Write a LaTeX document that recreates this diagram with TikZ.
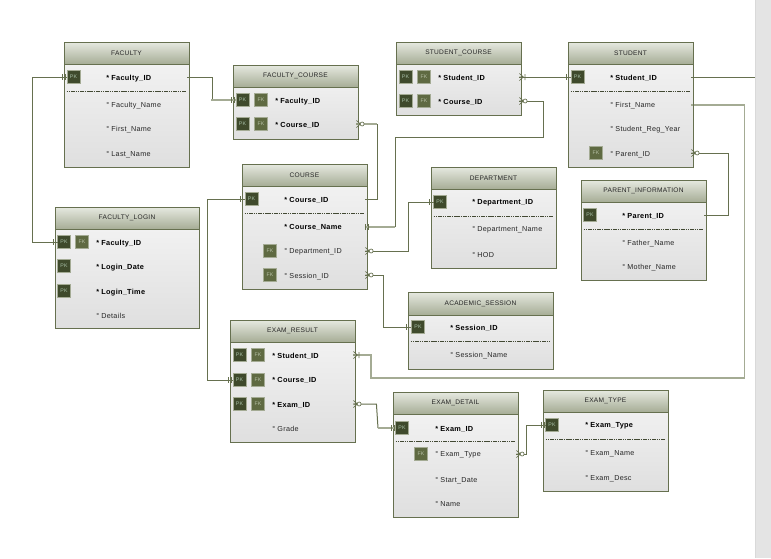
\documentclass[tikz,border=0pt]{standalone}
\usepackage{fontspec}
\setmainfont{Liberation Sans}[LetterSpace=4]
\definecolor{edge}{HTML}{66704F}
\definecolor{soft}{HTML}{A4AB94}
\definecolor{stripgrey}{HTML}{E4E4E4}
\definecolor{bodytop}{HTML}{F5F5F5}
\definecolor{bodybot}{HTML}{DFDFDF}
\definecolor{headtop}{HTML}{E6E9E0}
\definecolor{headbot}{HTML}{A6AD96}
\definecolor{pkfill}{HTML}{3F4A2C}
\definecolor{fkfill}{HTML}{5F6A42}
\definecolor{pktext}{HTML}{A8C0A8}
\definecolor{fktext}{HTML}{B4BEA4}
\tikzset{
  x=0.75pt,y=-0.75pt,
  tblbody/.style={draw=edge,line width=0.65pt,top color=bodytop,bottom color=bodybot,inner sep=0pt},
  tblhead/.style={draw=edge,line width=0.65pt,top color=headtop,bottom color=headbot,inner sep=0pt,font=\fontsize{4.95pt}{6pt}\selectfont,text=black!85},
  pkbox/.style={draw=soft,line width=0.6pt,fill=pkfill,minimum size=9.6pt,inner sep=0pt,font=\fontsize{3.9pt}{4pt}\selectfont,text=pktext},
  fkbox/.style={draw=soft,line width=0.6pt,fill=fkfill,minimum size=9.6pt,inner sep=0pt,font=\fontsize{3.9pt}{4pt}\selectfont,text=fktext},
  keytext/.style={anchor=west,yshift=-0.9pt,inner sep=0pt,font=\fontsize{5.5pt}{6pt}\selectfont\bfseries,text=black},
  plaintext/.style={anchor=west,yshift=-0.9pt,inner sep=0pt,font=\fontsize{5.4pt}{6pt}\selectfont,text=black!85},
  divider/.style={dash pattern=on 1.2pt off 0.5pt,line width=0.4pt,draw=black!35!edge},
  wire/.style={draw=edge,line width=0.75pt},
  softwire/.style={draw=soft,line width=1.35pt},
  barmark/.pic={\draw[edge,line width=0.5pt] (0,-3) -- (0,3) (2.5,-3) -- (2.5,3);},
  onemark/.pic={\draw[edge,line width=0.7pt] (0,-3) -- (0,3);},
  crowmark/.pic={\draw[edge,line width=0.5pt] (0,-3.5) -- (4,0) -- (0,3.5) (0,0) -- (4,0);\draw[edge,line width=0.5pt,fill=white] (5.7,0) circle (2);},
  crowbar/.pic={\draw[edge,line width=0.5pt] (0,-3.5) -- (4,0) -- (0,3.5) (0,0) -- (4,0) (5.5,-3) -- (5.5,3);}
}
\newcommand{\tbl}[7]{%
  \node[tblbody,minimum width={(#4-#2)*0.75pt},minimum height={(#5-#3)*0.75pt}] (#1) at ({(#2+#4)/2},{(#3+#5)/2}) {};
  \node[tblhead,minimum width={(#4-#2)*0.75pt},minimum height={(#6-#3)*0.75pt}] (#1-head) at ({(#2+#4)/2},{(#3+#6)/2}) {#7};
}
\newcommand{\pkat}[3]{\node[pkbox] (#1) at (#2,#3) {PK};}
\newcommand{\fkat}[3]{\node[fkbox] (#1) at (#2,#3) {FK};}
\newcommand{\keyrow}[4]{\node[keytext] (#1) at (#2,#3) {* #4};}
\newcommand{\optrow}[4]{\node[plaintext] (#1) at (#2,#3) {° #4};}
\newcommand{\splitline}[2]{\draw[divider] ([xshift=2.2pt]#1.west |- 0,#2) -- ([xshift=-2.2pt]#1.east |- 0,#2);}
\newcommand{\port}[3]{\coordinate (#1-l) at ([xshift=2.2pt]#2.west |- 0,#3);\coordinate (#1-r) at ([xshift=-1.5pt]#2.east |- 0,#3);}
\begin{document}
\begin{tikzpicture}
\useasboundingbox (0,0) rectangle (771,558);
\fill[white] (0,0) rectangle (771,558);
\fill[stripgrey] (755,0) rectangle (771,558);
\draw[black!15,line width=0.4pt] (755,0) -- (755,558);

\tbl{fac}{64}{42}{189}{167}{64}{FACULTY}
\pkat{fac-p1}{73.5}{77}
\keyrow{fac-t1}{106}{77}{Faculty\_ID}
\splitline{fac}{91}
\optrow{fac-t2}{106}{104.5}{Faculty\_Name}
\optrow{fac-t3}{106}{128.5}{First\_Name}
\optrow{fac-t4}{106}{153}{Last\_Name}
\port{fac-id}{fac}{77}

\tbl{fc}{233}{65}{358}{139}{87}{FACULTY\_COURSE}
\pkat{fc-p1}{242.5}{100}\fkat{fc-f1}{261}{100}
\keyrow{fc-t1}{275}{100}{Faculty\_ID}
\pkat{fc-p2}{242.5}{124}\fkat{fc-f2}{261}{124}
\keyrow{fc-t2}{275}{124}{Course\_ID}
\port{fc-fid}{fc}{100}\port{fc-cid}{fc}{124}

\tbl{sc}{396}{42}{521}{115}{64}{STUDENT\_COURSE}
\pkat{sc-p1}{405.5}{77}\fkat{sc-f1}{424}{77}
\keyrow{sc-t1}{438}{77}{Student\_ID}
\pkat{sc-p2}{405.5}{101}\fkat{sc-f2}{424}{101}
\keyrow{sc-t2}{438}{101}{Course\_ID}
\port{sc-sid}{sc}{77}\port{sc-cid}{sc}{101}

\tbl{st}{568}{42}{693}{167}{64}{STUDENT}
\pkat{st-p1}{577.5}{77}
\keyrow{st-t1}{610}{77}{Student\_ID}
\splitline{st}{91}
\optrow{st-t2}{610}{104.5}{First\_Name}
\optrow{st-t3}{610}{128.5}{Student\_Reg\_Year}
\fkat{st-f1}{596}{153}
\optrow{st-t4}{610}{153}{Parent\_ID}
\port{st-id}{st}{77}\port{st-fn}{st}{105}\port{st-par}{st}{153}

\tbl{co}{242}{164}{367}{289}{186}{COURSE}
\pkat{co-p1}{251.5}{199}
\keyrow{co-t1}{284}{199}{Course\_ID}
\splitline{co}{213}
\keyrow{co-t2}{284}{226.5}{Course\_Name}
\fkat{co-f1}{270}{251}
\optrow{co-t3}{284}{251}{Department\_ID}
\fkat{co-f2}{270}{275}
\optrow{co-t4}{284}{275}{Session\_ID}
\port{co-id}{co}{199}\port{co-nm}{co}{227}\port{co-dep}{co}{251}\port{co-ses}{co}{275}

\tbl{de}{431}{167}{556}{268}{189}{DEPARTMENT}
\pkat{de-p1}{440}{202}
\keyrow{de-t1}{472}{202}{Department\_ID}
\splitline{de}{216}
\optrow{de-t2}{472}{229}{Department\_Name}
\optrow{de-t3}{472}{254}{HOD}
\port{de-id}{de}{202}

\tbl{pa}{581}{180}{706}{280}{202}{PARENT\_INFORMATION}
\pkat{pa-p1}{590}{215}
\keyrow{pa-t1}{622}{215}{Parent\_ID}
\splitline{pa}{229}
\optrow{pa-t2}{622}{242}{Father\_Name}
\optrow{pa-t3}{622}{266}{Mother\_Name}
\port{pa-id}{pa}{215}

\tbl{fl}{55}{207}{199}{328}{229}{FACULTY\_LOGIN}
\pkat{fl-p1}{64}{242}\fkat{fl-f1}{82}{242}
\keyrow{fl-t1}{96}{242}{Faculty\_ID}
\pkat{fl-p2}{64}{266}
\keyrow{fl-t2}{96}{266}{Login\_Date}
\pkat{fl-p3}{64}{291}
\keyrow{fl-t3}{96}{291}{Login\_Time}
\optrow{fl-t4}{96}{315}{Details}
\port{fl-id}{fl}{242}

\tbl{as}{408}{292}{553}{369}{315}{ACADEMIC\_SESSION}
\pkat{as-p1}{418}{327}
\keyrow{as-t1}{450}{327}{Session\_ID}
\splitline{as}{341}
\optrow{as-t2}{450}{354}{Session\_Name}
\port{as-id}{as}{327}

\tbl{er}{230}{320}{355}{442}{342}{EXAM\_RESULT}
\pkat{er-p1}{239.5}{355}\fkat{er-f1}{258}{355}
\keyrow{er-t1}{272}{355}{Student\_ID}
\pkat{er-p2}{239.5}{379.5}\fkat{er-f2}{258}{379.5}
\keyrow{er-t2}{272}{379.5}{Course\_ID}
\pkat{er-p3}{239.5}{404}\fkat{er-f3}{258}{404}
\keyrow{er-t3}{272}{404}{Exam\_ID}
\optrow{er-t4}{272}{428}{Grade}
\port{er-sid}{er}{355}\port{er-cid}{er}{380}\port{er-eid}{er}{404}

\tbl{ed}{393}{392}{518}{517}{414}{EXAM\_DETAIL}
\pkat{ed-p1}{402}{428}
\keyrow{ed-t1}{435}{428}{Exam\_ID}
\splitline{ed}{441}
\fkat{ed-f1}{421}{454}
\optrow{ed-t2}{435}{454}{Exam\_Type}
\optrow{ed-t3}{435}{479}{Start\_Date}
\optrow{ed-t4}{435}{503}{Name}
\port{ed-id}{ed}{428}\port{ed-type}{ed}{454}

\tbl{et}{543}{390}{668}{491}{412}{EXAM\_TYPE}
\pkat{et-p1}{552}{425}
\keyrow{et-t1}{585}{425}{Exam\_Type}
\splitline{et}{439}
\optrow{et-t2}{585}{452}{Exam\_Name}
\optrow{et-t3}{585}{477}{Exam\_Desc}
\port{et-id}{et}{425}

\coordinate (edge-st) at (755,77);

% connectors
\draw[wire] (fac-id-r) -- ++(25,0) |- (fc-fid-l);
\draw[softwire] (211,100) -- (fc-fid-l);
\draw[wire] (fac-id-l) -- ++(-34,0) |- (fl-id-l);
\draw[softwire] (fc-cid-r) -- ++(21,0);
\draw[wire] (377,124) |- (co-id-r);
\draw[wire] (sc-sid-r) -- (st-id-l);
\draw[wire] (sc-cid-r) -- ++(24,0) |- (395,137) -- (395,227);
\draw[softwire] (395,227) -- (co-nm-r);
\draw[wire] (st-id-r) -- (edge-st);
\draw[softwire] (st-fn-r) -- ++(53,0) |- (371,378) |- (er-sid-r);
\draw[wire] (st-par-r) -- ++(37,0) |- (pa-id-r);
\draw[wire] (co-dep-r) -- ++(43,0) |- (de-id-l);
\draw[wire] (co-ses-r) -- ++(18,0) |- (as-id-l);
\draw[wire] (er-cid-l) -- ++(-25,0) |- (co-id-l);
\draw[wire] (er-eid-r) -- ++(23,0) -- (378,428);
\draw[softwire] (378,428) -- (ed-id-l);
\draw[wire] (ed-type-r) -- ++(10,0) |- (et-id-l);

% end marks
\pic at ([xshift=-3pt]fc-fid-l) {barmark};
\pic at ([xshift=-3pt]fl-id-l) {onemark};
\pic at ([xshift=-3pt]fac-id-l) {barmark};
\pic at ([xshift=-3pt]st-id-l) {onemark};
\pic at ([xshift=-3pt]de-id-l) {onemark};
\pic at ([xshift=-3pt]as-id-l) {onemark};
\pic at ([xshift=-3pt]et-id-l) {barmark};
\pic at ([xshift=-3pt]co-id-l) {onemark};
\pic at ([xshift=-3pt]ed-id-l) {barmark};
\pic at ([xshift=-3pt]er-cid-l) {barmark};
\pic at ([xshift=1.5pt]fac-id-r) {onemark};
\pic at ([xshift=1.5pt]st-id-r) {onemark};
\pic at ([xshift=1.5pt]st-fn-r) {onemark};
\pic at ([xshift=1.5pt]pa-id-r) {onemark};
\pic at ([xshift=1.5pt]co-id-r) {onemark};
\pic at (fc-cid-r) {crowmark};
\pic at (sc-cid-r) {crowmark};
\pic at (sc-sid-r) {crowbar};
\pic at (st-par-r) {crowmark};
\pic at (co-ses-r) {crowmark};
\pic at (co-dep-r) {crowmark};
\pic at (co-nm-r) {barmark};
\pic at (er-sid-r) {crowbar};
\pic at (er-eid-r) {crowmark};
\pic at (ed-type-r) {crowmark};
\end{tikzpicture}
\end{document}
